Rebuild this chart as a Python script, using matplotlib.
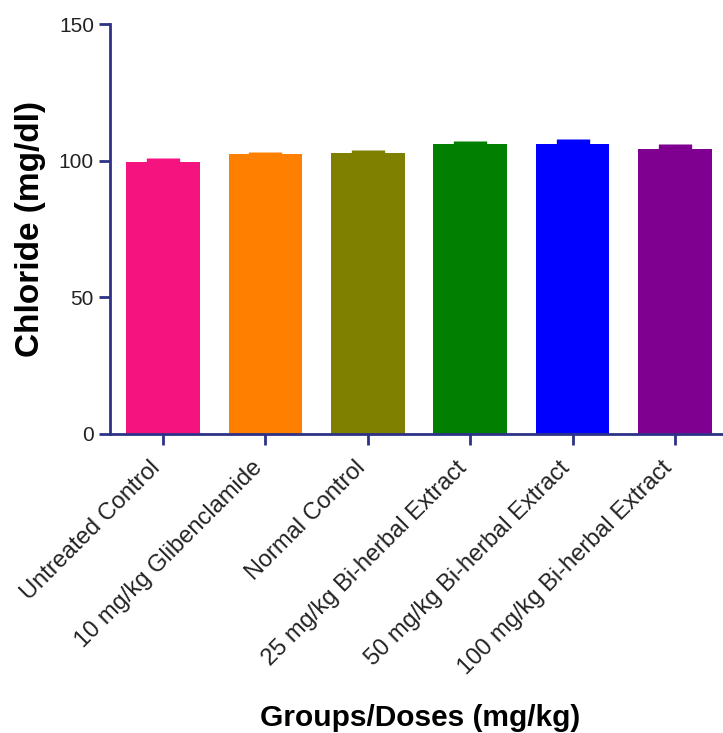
import matplotlib.pyplot as plt
import matplotlib.transforms as mtransforms
import numpy as np

plt.rcParams['font.family'] = ['Liberation Sans', 'DejaVu Sans']

groups = ['Untreated Control', '10 mg/kg Glibenclamide', 'Normal Control',
          '25 mg/kg Bi-herbal Extract', '50 mg/kg Bi-herbal Extract',
          '100 mg/kg Bi-herbal Extract']
chloride = [99.6, 102.3, 102.7, 106.1, 106.1, 104.2]
sem = [1.3, 1.0, 1.4, 1.0, 1.7, 2.0]
colors = ['#F5147F', '#FF8000', '#808000', '#007F00', '#0000FF', '#7F0090']

axis_col = '#2E3286'

fig = plt.figure(figsize=(7.23, 7.33), dpi=100)
ax = fig.add_axes([0.152, 0.408, 0.848, 0.559])

x = np.arange(len(groups))
ax.bar(x, chloride, width=0.72, color=colors, zorder=2)
for i in range(len(groups)):
    ax.errorbar(x[i], chloride[i], yerr=[[0], [sem[i]]], fmt='none',
                ecolor=colors[i], elinewidth=24, capsize=0, zorder=3)

ax.set_xlim(-0.52, 5.47)
ax.set_ylim(0, 150)
ax.set_yticks([0, 50, 100, 150])
ax.set_xticks(x)
ax.set_xticklabels([])

# rotated group names, sitting a bit left of each tick
lab_tr = ax.get_xaxis_transform() + mtransforms.ScaledTranslation(-0.14, -0.23, fig.dpi_scale_trans)
for xi, name in zip(x, groups):
    ax.text(xi, 0, name, transform=lab_tr, rotation=45, ha='right', va='top',
            rotation_mode='anchor', fontsize=17, color='#222222')

ax.tick_params(axis='y', labelsize=15, labelcolor='#222222', color=axis_col,
               width=2, length=8)
ax.tick_params(axis='x', color=axis_col, width=2, length=8)

for s in ['top', 'right']:
    ax.spines[s].set_visible(False)
for s in ['left', 'bottom']:
    ax.spines[s].set_color(axis_col)
    ax.spines[s].set_linewidth(2)

ax.set_ylabel('Chloride (mg/dl)', fontsize=24, fontweight='bold', labelpad=9)
ax.set_xlabel('Groups/Doses (mg/kg)', fontsize=21.5, fontweight='bold')
ax.xaxis.set_label_coords(0.506, -0.66)

fig.savefig('out.png', dpi=100)
